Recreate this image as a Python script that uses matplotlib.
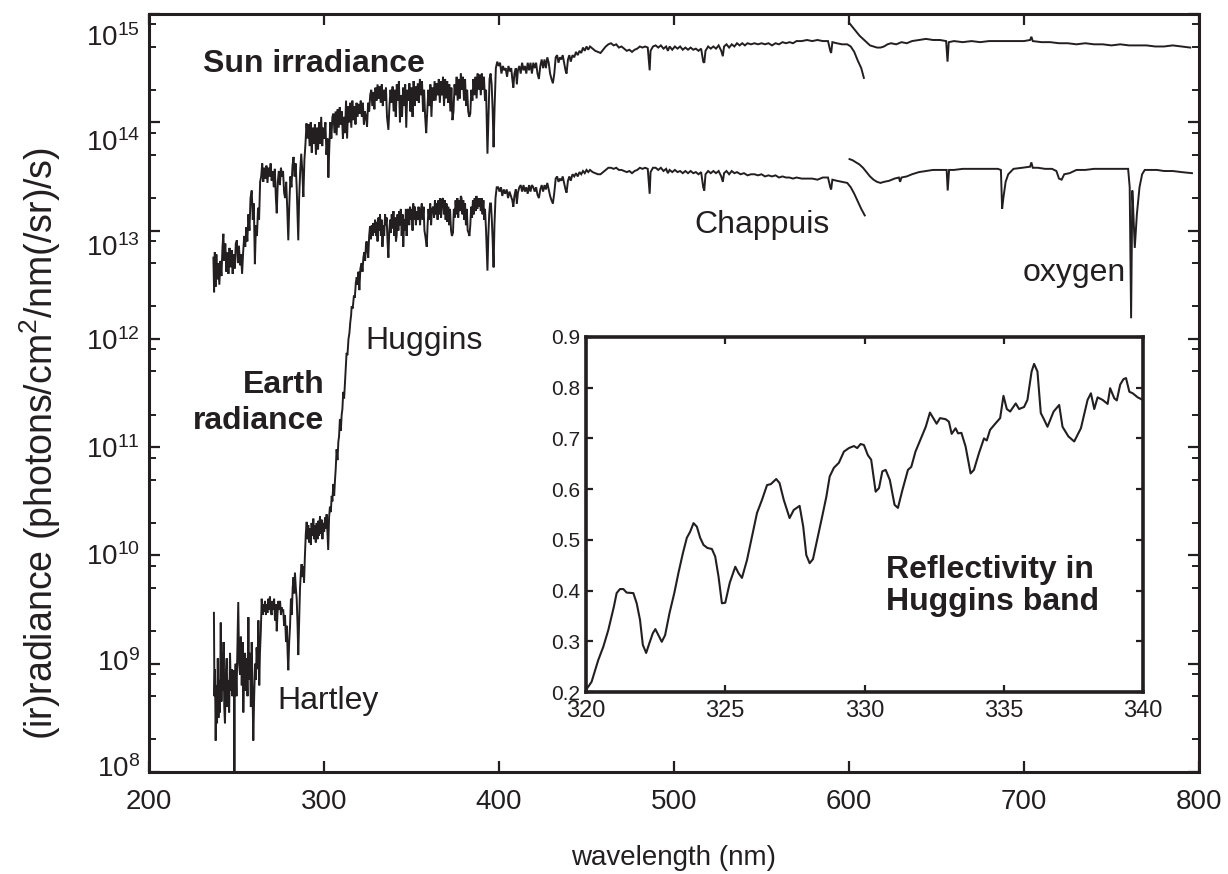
import numpy as np
import matplotlib
matplotlib.use("Agg")
import matplotlib.pyplot as plt
from matplotlib.ticker import LogLocator, NullFormatter, FixedLocator, NullLocator
from matplotlib.transforms import blended_transform_factory, ScaledTranslation

plt.rcParams['font.family'] = ['Liberation Sans', 'DejaVu Sans']
plt.rcParams['mathtext.fontset'] = 'custom'
plt.rcParams['mathtext.rm'] = 'Liberation Sans'
plt.rcParams['mathtext.it'] = 'Liberation Sans:italic'
plt.rcParams['mathtext.bf'] = 'Liberation Sans:bold'
plt.rcParams['mathtext.default'] = 'regular'

INK = '#231f20'

# ---------------- data: (wavelength nm, log10 of (ir)radiance) ----------------
sun_ch1 = [
(236.8,12.75),(237.2,12.43),(237.6,12.80),(238.0,12.48),(238.5,12.78),(239.0,12.55),(239.6,12.70),(240.2,12.50),
(240.8,12.72),(241.4,12.58),(242.0,12.85),(242.5,12.97),(243.0,12.72),(243.6,12.88),(244.2,12.62),(244.8,12.80),
(245.4,12.60),(246.0,12.84),(246.6,12.66),(247.2,12.82),(247.8,12.60),(248.4,12.78),(249.0,12.65),(249.6,12.88),
(250.2,12.91),(250.8,12.70),(251.4,12.86),(252.0,12.68),(252.6,12.78),(253.2,12.60),(253.8,12.80),(254.4,12.95),
(255.0,12.85),(255.6,13.03),(256.2,12.90),(256.8,13.15),(257.4,13.00),(258.0,13.30),(258.7,13.37),(259.3,13.10),
(259.9,13.25),(260.5,12.69),(261.1,13.05),(261.7,12.95),(262.3,13.21),(262.9,13.10),(263.5,13.45),(264.1,13.50),
(264.7,13.62),(265.3,13.45),(265.9,13.58),(266.5,13.48),(267.1,13.60),(267.7,13.44),(268.3,13.58),(268.9,13.50),
(269.5,13.62),(270.1,13.46),(270.7,13.55),(271.3,13.40),(271.9,13.57),(272.5,13.30),(273.0,13.16),(273.6,13.45),
(274.2,13.55),(274.8,13.42),(275.4,13.58),(276.0,13.50),(276.6,13.55),(277.2,13.35),(277.8,13.30),(278.4,13.45),
(279.0,13.20),(279.6,12.91),(280.2,13.25),(280.8,13.50),(281.4,13.40),(282.0,13.60),(282.6,13.68),(283.2,13.50),
(283.8,13.62),(284.4,13.40),(285.0,13.05),(285.3,12.91),(285.8,13.30),(286.4,13.55),(287.0,13.71),(287.6,13.55),
(288.2,13.31),(288.8,13.65),(289.4,13.80),(290.0,13.99),(290.6,13.85),(291.2,13.98),(291.8,13.78),(292.4,14.00),
(293.0,13.72),(293.6,13.95),(294.2,13.80),(294.8,13.98),(295.4,13.70),(296.0,13.95),(296.6,13.75),(297.2,14.00),
(297.8,13.80),(298.4,14.05),(299.0,13.78),(299.6,13.95),(300.2,13.85),(300.8,14.00),(301.4,13.70),(302.0,13.85),
(302.5,13.49),(303.0,13.75),(303.6,14.00),(304.2,13.85),(304.8,14.05),(305.4,14.08),(306.0,13.90),(306.6,14.10),
(307.2,13.88),(307.8,14.12),(308.4,13.95),(309.0,14.14),(309.6,13.98),(310.2,14.10),(310.8,13.85),(311.4,14.05),
(312.0,13.90),(312.6,14.20),(313.2,13.85),(313.8,14.15),(314.4,14.00),(315.0,14.18),(315.6,13.95),(316.2,14.20),
(316.8,14.02),(317.4,14.15),(318.0,13.98),(318.6,14.18),(319.2,14.05),(319.8,14.17),(320.4,14.08),(321.0,14.20),
(321.6,14.05),(322.2,14.18),(322.8,13.98),(323.4,14.10),(324.0,14.05),(324.6,13.96),(325.2,14.18),(325.8,14.10),
(326.4,14.25),(327.0,14.30),(327.6,14.15),(328.2,14.28),(328.8,14.12),(329.4,14.32),(330.0,14.20),(330.6,14.35),
(331.2,14.22),(331.8,14.33),(332.4,14.18),(333.0,14.35),(333.6,14.15),(334.2,14.30),(334.8,14.20),(335.4,14.32),
(336.0,14.05),(336.8,13.93),(337.4,14.15),(338.0,14.30),(338.6,14.18),(339.2,14.33),(339.8,14.10),(340.4,14.30),
(341.0,14.05),(341.6,14.35),(342.2,14.20),(342.8,14.38),(343.4,14.00),(344.0,14.25),(344.6,14.05),(345.2,14.32),
(345.8,14.15),(346.4,14.35),(347.0,13.95),(347.6,14.30),(348.2,14.20),(348.8,14.36),(349.4,14.10),(350.0,14.32),
(350.6,14.05),(351.2,14.38),(351.8,14.15),(352.4,14.33),(353.0,14.20),(353.6,14.36),(354.2,14.18),(354.8,14.40),
(355.4,14.25),(356.0,14.38),(356.6,14.10),(357.2,14.30),(357.8,14.05),(358.4,13.90),(359.0,14.10),(359.6,14.30),
(360.2,14.15),(360.8,14.35),(361.4,14.05),(362.0,14.32),(362.6,14.20),(363.2,14.38),(363.8,14.20),(364.4,14.36),
(365.0,14.25),(365.6,14.40),(366.2,14.18),(366.8,14.38),(367.4,14.25),(368.0,14.42),(368.6,14.15),(369.2,14.40),
(369.8,14.22),(370.4,14.38),(371.0,14.18),(371.6,14.35),(372.2,14.10),(372.8,14.32),(373.4,14.02),(374.0,14.10),
(374.6,14.35),(375.2,14.25),(375.8,14.42),(376.4,14.20),(377.0,14.40),(377.6,14.22),(378.2,14.45),(378.8,14.30),
(379.4,14.42),(380.0,14.20),(380.6,14.40),(381.2,14.15),(381.8,14.30),(382.4,14.10),(383.0,14.05),(383.6,14.08),
(384.2,14.30),(384.8,14.20),(385.4,14.40),(386.0,14.25),(386.6,14.42),(387.2,14.22),(387.8,14.45),(388.4,14.30),
(389.0,14.44),(389.6,14.25),(390.2,14.45),(390.8,14.30),(391.4,14.42),(392.0,14.20),(392.6,14.30),(393.4,13.71),
(394.0,14.05),(394.6,14.40),(395.2,14.45),(395.8,14.35),(396.4,14.10),(396.9,13.77),(397.5,14.15),(398.2,14.50),
(399.0,14.56),(399.8,14.52),(400.6,14.55),(401.4,14.45),(402.2,14.52),(403.0,14.48),(403.8,14.50),(404.6,14.42),
(405.4,14.52),(406.2,14.47),(407.0,14.50),(407.6,14.40),(408.2,14.32),(408.8,14.45),(409.6,14.50),(410.2,14.35),
(410.8,14.48),(411.6,14.52),(412.4,14.45),(413.2,14.55),(414.0,14.48),(414.8,14.52),(415.6,14.45),(416.4,14.55),
(417.2,14.48),(418.0,14.55),(418.8,14.45),(419.6,14.55),(420.4,14.50),(421.2,14.55),(422.0,14.45),(422.8,14.40),
(423.6,14.52),(424.4,14.58),(425.2,14.50),(426.0,14.58),(426.8,14.50),(427.6,14.60),(428.4,14.55),(429.2,14.45),
(430.0,14.40),(430.8,14.36),(431.6,14.45),(432.4,14.60),(433.2,14.62),(434.0,14.55),(434.8,14.60),(435.6,14.58),
(436.4,14.62),(437.2,14.55),(438.0,14.48),(438.6,14.45),(439.4,14.58),(440.2,14.62),(441.0,14.56),(442.0,14.62),
(443.0,14.60),(444.0,14.65),(445.0,14.62),(446.0,14.66),(447.0,14.64),(448.0,14.69),(449.0,14.66),(450.0,14.70),
(451.0,14.67),(452.0,14.70),(453.5,14.68),(455.0,14.66),(456.5,14.65),(458.0,14.64),(459.5,14.67),(461.0,14.70),
(462.5,14.72),(464.0,14.73),(465.5,14.71),(467.0,14.72),(468.5,14.69),(470.0,14.70),(471.5,14.68),(473.0,14.66),
(474.5,14.67),(476.0,14.65),(477.5,14.67),(479.0,14.68),(480.5,14.70),(482.0,14.69),(483.5,14.70),(485.0,14.69),
(486.1,14.48),(486.6,14.66),(488.0,14.70),(489.5,14.71),(491.0,14.69),(492.5,14.71),(494.0,14.68),(495.5,14.70),
(496.5,14.66),(497.5,14.70),(499.0,14.67),(500.5,14.70),(502.0,14.68),(503.5,14.70),(505.0,14.67),(506.5,14.69),
(508.0,14.67),(509.5,14.69),(511.0,14.67),(512.5,14.68),(514.0,14.66),(515.5,14.68),(516.7,14.56),(517.3,14.55),
(518.0,14.66),(519.5,14.70),(521.0,14.68),(522.5,14.70),(524.0,14.68),(525.5,14.71),(527.0,14.66),(527.9,14.61),
(528.6,14.70),(530.0,14.72),(531.5,14.69),(533.0,14.72),(534.5,14.70),(536.0,14.73),(537.5,14.71),(539.0,14.73),
(540.5,14.71),(542.0,14.73),(544.0,14.72),(546.0,14.73),(548.0,14.72),(550.0,14.73),(552.0,14.72),(554.0,14.73),
(556.0,14.71),(558.0,14.73),(560.0,14.72),(562.0,14.74),(564.0,14.73),(566.0,14.74),(568.0,14.73),(570.0,14.75),
(573.0,14.75),(576.0,14.76),(579.0,14.75),(582.0,14.76),(585.0,14.75),(588.0,14.75),(589.3,14.66),(589.8,14.64),
(590.5,14.74),(593.0,14.73),(596.0,14.72),(599.0,14.72),(601.0,14.70),(603.0,14.65),(605.0,14.57),(607.0,14.50),
(608.5,14.41),
]

sun_ch2 = [
(600.0,14.92),(602.0,14.88),(604.0,14.84),(606.0,14.80),(608.0,14.77),(610.0,14.74),(612.0,14.71),(614.0,14.70),
(616.0,14.69),(618.0,14.69),(620.0,14.70),(622.0,14.72),(624.0,14.73),(627.0,14.72),(630.0,14.74),(633.0,14.73),
(636.0,14.75),(640.0,14.76),(644.0,14.77),(648.0,14.76),(652.0,14.76),(655.5,14.75),(656.3,14.56),(657.0,14.74),
(660.0,14.75),(665.0,14.74),(670.0,14.75),(675.0,14.74),(680.0,14.75),(685.0,14.75),(690.0,14.75),(695.0,14.75),
(700.0,14.75),(703.5,14.76),(704.2,14.79),(705.0,14.75),(710.0,14.74),(715.0,14.74),(720.0,14.73),(725.0,14.73),
(730.0,14.72),(735.0,14.73),(740.0,14.72),(745.0,14.72),(750.0,14.71),(755.0,14.72),(760.0,14.71),(765.0,14.71),
(770.0,14.71),(775.0,14.70),(780.0,14.70),(785.0,14.71),(790.0,14.70),(795.0,14.69),
]

earth_ch1 = [
(237.1,9.47),(237.4,8.70),(237.7,8.95),(238.1,8.29),(238.5,8.80),(238.9,8.45),(239.3,9.05),(239.7,8.50),
(240.1,8.85),(240.5,8.55),(241.0,9.38),(241.4,8.65),(241.8,9.10),(242.2,8.75),(242.6,9.20),(243.0,8.60),
(243.4,8.45),(243.9,8.90),(244.4,9.05),(244.9,8.60),(245.3,8.85),(245.8,8.55),(246.3,9.10),(246.8,8.75),
(247.2,8.95),(247.7,8.70),(248.2,8.94),(248.6,8.75),(248.8,7.90),(249.0,8.80),(249.5,9.00),(250.0,8.70),
(250.5,9.15),(251.0,9.57),(251.5,9.00),(252.0,8.90),(252.5,9.25),(253.0,8.80),(253.5,9.20),(253.9,8.55),
(254.4,9.00),(254.9,9.10),(255.3,8.75),(255.8,9.05),(256.3,8.70),(256.8,9.43),(257.2,8.85),(257.7,9.10),
(258.2,8.60),(258.7,9.20),(259.1,8.80),(259.6,8.29),(260.1,8.70),(260.6,9.00),(261.1,8.85),(261.5,9.15),
(262.0,8.95),(262.5,9.40),(263.0,8.80),(263.4,9.10),(263.9,9.30),(264.4,9.60),(264.9,9.45),(265.3,9.55),
(265.8,9.48),(266.3,9.58),(266.8,9.45),(267.2,9.55),(267.7,9.47),(268.2,9.60),(268.7,9.50),(269.1,9.62),
(269.6,9.48),(270.1,9.45),(270.6,9.58),(271.1,9.50),(271.5,9.60),(272.0,9.40),(272.5,9.55),(273.0,9.30),
(273.4,9.45),(273.9,9.58),(274.4,9.50),(274.9,9.58),(275.4,9.45),(275.8,9.52),(276.3,9.48),(276.7,9.50),
(277.2,9.35),(277.7,9.45),(278.3,9.20),(278.8,9.35),(279.2,9.10),(279.6,8.94),(280.1,9.20),(280.6,9.35),
(281.1,9.60),(281.6,9.45),(282.1,9.70),(282.6,9.80),(283.0,9.65),(283.4,9.84),(283.9,9.70),(284.4,9.60),
(284.9,9.35),(285.3,9.08),(285.8,9.40),(286.3,9.70),(286.8,9.85),(287.2,9.92),(287.7,9.80),(288.2,9.90),
(288.6,9.75),(289.1,10.00),(289.6,10.20),(290.1,10.31),(290.6,10.15),(291.0,10.28),(291.5,10.12),(292.0,10.25),
(292.5,10.10),(292.9,10.30),(293.4,10.18),(293.9,10.34),(294.4,10.15),(294.9,10.28),(295.3,10.12),(295.8,10.30),
(296.3,10.15),(296.8,10.32),(297.2,10.18),(297.7,10.36),(298.2,10.20),(298.7,10.33),(299.1,10.15),(299.6,10.30),
(300.1,10.22),(300.6,10.35),(301.0,10.25),(301.5,10.38),(302.0,10.20),(302.4,10.05),(302.9,10.35),(303.4,10.45),
(303.9,10.40),(304.4,10.55),(304.8,10.50),(305.3,10.66),(305.8,10.55),(306.3,10.70),(306.7,10.80),(307.2,10.98),
(307.7,10.88),(308.2,11.05),(308.6,11.10),(309.1,11.26),(309.6,11.15),(310.1,11.30),(310.5,11.35),(311.0,11.51),
(311.5,11.45),(312.0,11.60),(312.4,11.72),(312.9,11.87),(313.4,11.85),(314.0,12.00),(314.5,12.05),(315.0,12.15),
(315.5,12.22),(315.8,12.30),(316.4,12.28),(317.1,12.40),(317.6,12.38),(318.2,12.52),(318.7,12.57),(319.2,12.50),
(319.7,12.62),(320.2,12.45),(320.8,12.65),(321.5,12.70),(322.0,12.62),(322.5,12.75),(323.0,12.80),(323.5,12.72),
(324.0,12.88),(324.4,12.90),(324.9,12.80),(325.3,12.75),(325.8,12.95),(326.3,13.04),(326.8,12.92),(327.3,13.05),
(327.8,12.95),(328.2,13.07),(328.7,12.98),(329.2,13.10),(329.7,12.95),(330.1,13.08),(330.6,12.90),(331.1,13.12),
(331.6,13.00),(332.0,13.15),(332.5,12.95),(333.0,13.10),(333.4,12.85),(333.9,13.05),(334.4,12.95),(334.9,13.15),
(335.3,13.05),(335.8,13.12),(336.3,12.90),(336.8,12.75),(337.3,13.00),(337.8,13.10),(338.2,12.98),(338.7,13.15),
(339.2,13.02),(339.7,13.18),(340.2,12.95),(340.7,13.12),(341.1,12.90),(341.5,12.95),(342.0,13.15),(342.5,13.00),
(343.0,13.18),(343.4,13.05),(343.9,13.20),(344.4,12.95),(344.9,13.15),(345.3,12.85),(345.8,13.10),(346.3,13.00),
(346.8,13.20),(347.2,12.95),(347.7,13.18),(348.2,13.20),(348.7,13.05),(349.2,13.22),(349.6,13.10),(350.1,13.20),
(350.6,13.00),(351.0,13.25),(351.5,13.10),(352.0,13.22),(352.5,13.05),(353.0,13.18),(353.5,13.10),(354.0,13.22),
(354.5,13.15),(354.9,13.05),(355.4,13.20),(355.9,13.25),(356.4,13.10),(356.9,13.22),(357.4,13.00),(357.9,12.95),
(358.7,12.85),(359.2,13.05),(359.7,13.20),(360.2,13.10),(360.7,13.25),(361.2,13.05),(361.7,13.20),(362.4,13.22),
(362.9,13.12),(363.4,13.28),(363.9,13.15),(364.4,13.25),(364.9,13.10),(365.4,13.28),(365.9,13.15),(366.4,13.30),
(366.9,13.12),(367.4,13.28),(368.0,13.30),(368.5,13.15),(369.0,13.28),(369.5,13.10),(370.0,13.25),(370.5,13.08),
(371.0,13.22),(371.5,13.05),(372.0,13.20),(372.6,13.00),(373.1,12.95),(373.7,12.98),(374.2,13.20),(374.7,13.12),
(375.2,13.28),(375.7,13.15),(376.2,13.30),(376.7,13.12),(377.2,13.28),(377.7,13.18),(378.2,13.32),(378.6,13.30),
(379.1,13.15),(379.6,13.28),(380.1,13.10),(380.6,13.25),(381.1,13.05),(381.6,13.20),(382.1,13.00),(382.6,12.98),
(383.1,12.95),(383.6,13.05),(384.1,13.22),(384.6,13.12),(385.1,13.28),(385.6,13.15),(386.1,13.30),(386.6,13.18),
(387.1,13.32),(387.6,13.20),(388.1,13.30),(388.6,13.22),(389.0,13.30),(389.6,13.18),(390.1,13.30),(390.6,13.15),
(391.1,13.28),(391.6,13.10),(392.0,13.20),(392.6,13.00),(393.4,12.63),(393.9,12.95),(394.4,13.15),(394.9,13.25),
(395.4,13.25),(395.9,13.10),(396.4,12.90),(396.9,12.66),(397.4,13.05),(398.0,13.30),(398.7,13.40),(399.5,13.40),
(400.3,13.36),(401.1,13.40),(401.9,13.32),(402.7,13.38),(403.5,13.34),(404.4,13.38),(405.2,13.30),(406.0,13.36),
(406.8,13.32),(407.6,13.28),(408.2,13.22),(408.8,13.32),(409.6,13.38),(410.2,13.25),(410.8,13.35),(411.6,13.40),
(412.4,13.42),(413.2,13.36),(414.0,13.42),(414.8,13.36),(415.6,13.40),(416.4,13.34),(417.2,13.42),(418.0,13.36),
(418.8,13.42),(419.6,13.40),(420.4,13.36),(421.2,13.40),(422.0,13.33),(422.8,13.30),(423.6,13.38),(424.4,13.42),
(425.2,13.36),(426.0,13.42),(426.8,13.38),(427.6,13.44),(428.4,13.38),(429.2,13.32),(430.0,13.28),(430.8,13.25),
(431.6,13.35),(432.4,13.48),(433.2,13.50),(434.0,13.45),(434.8,13.48),(435.6,13.46),(436.4,13.50),(437.2,13.44),
(438.0,13.38),(438.6,13.35),(439.4,13.46),(440.2,13.50),(441.0,13.46),(442.0,13.52),(443.0,13.50),(444.0,13.53),
(445.0,13.50),(446.0,13.54),(447.0,13.52),(448.0,13.55),(449.0,13.53),(450.0,13.56),(451.0,13.54),(452.0,13.56),
(453.5,13.54),(455.0,13.53),(456.5,13.52),(458.0,13.52),(459.5,13.54),(461.0,13.56),(462.5,13.58),(464.0,13.58),
(465.5,13.57),(467.0,13.58),(468.5,13.56),(470.0,13.56),(471.5,13.55),(473.0,13.54),(474.5,13.55),(476.0,13.53),
(477.5,13.55),(479.0,13.56),(480.5,13.58),(482.0,13.57),(483.5,13.58),(485.0,13.57),(486.1,13.34),(486.6,13.54),
(488.0,13.58),(489.5,13.58),(491.0,13.56),(492.5,13.58),(494.0,13.55),(495.5,13.57),(496.5,13.53),(497.5,13.56),
(499.0,13.54),(500.5,13.56),(502.0,13.54),(503.5,13.55),(505.0,13.53),(506.5,13.55),(508.0,13.53),(509.5,13.55),
(511.0,13.53),(512.5,13.54),(514.0,13.52),(515.5,13.54),(516.7,13.40),(517.3,13.37),(518.0,13.52),(519.5,13.55),
(521.0,13.53),(522.5,13.55),(524.0,13.53),(525.5,13.55),(527.0,13.50),(527.9,13.45),(528.6,13.53),(530.0,13.55),
(531.5,13.52),(533.0,13.55),(534.5,13.53),(536.0,13.54),(538.0,13.52),(540.0,13.53),(542.0,13.51),(544.0,13.52),
(546.0,13.52),(548.0,13.51),(550.0,13.52),(552.0,13.50),(554.0,13.51),(556.0,13.50),(558.0,13.51),(560.0,13.49),
(562.0,13.50),(564.0,13.49),(566.0,13.49),(568.0,13.48),(570.0,13.49),(573.0,13.48),(576.0,13.48),(579.0,13.48),
(582.0,13.47),(585.0,13.49),(588.0,13.49),(589.3,13.40),(589.8,13.38),(590.5,13.47),(593.0,13.46),(596.0,13.45),
(599.0,13.44),(601.0,13.40),(603.0,13.34),(605.0,13.27),(607.0,13.20),(609.0,13.14),
]

earth_ch2 = [
(600.3,13.66),(602.0,13.65),(604.0,13.63),(606.0,13.61),(608.0,13.58),(610.0,13.54),(612.0,13.50),(614.0,13.47),
(616.0,13.45),(618.0,13.44),(620.0,13.45),(623.0,13.46),(626.0,13.48),(628.5,13.49),(629.2,13.45),(630.0,13.49),
(633.0,13.50),(636.0,13.52),(640.0,13.54),(644.0,13.55),(648.0,13.56),(652.0,13.56),(655.8,13.56),(656.4,13.37),
(657.2,13.56),(660.0,13.56),(665.0,13.57),(670.0,13.57),(675.0,13.57),(680.0,13.57),(685.0,13.57),(686.8,13.56),
(687.5,13.20),(688.2,13.30),(689.5,13.45),(691.0,13.52),(694.0,13.57),(699.0,13.58),(703.5,13.59),(704.2,13.63),
(705.0,13.58),(708.0,13.58),(712.0,13.57),(716.0,13.57),(718.5,13.55),(720.0,13.48),(721.5,13.47),(723.0,13.52),
(726.0,13.53),(730.0,13.56),(735.0,13.56),(740.0,13.57),(745.0,13.57),(750.0,13.57),(755.0,13.57),(759.5,13.57),
(760.4,13.40),(761.2,12.19),(761.9,13.37),(762.4,13.20),(763.3,12.84),(764.5,13.15),(766.0,13.40),(767.5,13.52),
(769.0,13.56),(772.0,13.56),(776.0,13.56),(780.0,13.55),(785.0,13.55),(790.0,13.54),(796.0,13.53),
]

# inset: reflectivity in the Huggins band (wavelength nm, reflectivity)
huggins_nm = [320.0,320.2,320.44,320.62,320.8,321.0,321.1,321.22,321.34,321.46,321.7,321.82,321.94,322.04,322.16,
    322.28,322.4,322.49,322.6,322.72,322.84,323.0,323.17,323.32,323.48,323.62,323.74,323.86,323.98,324.1,324.22,
    324.36,324.52,324.64,324.76,324.88,325.0,325.16,325.36,325.48,325.6,325.78,325.96,326.14,326.32,326.5,326.64,
    326.83,326.95,327.1,327.31,327.46,327.67,327.8,327.91,328.03,328.15,328.3,328.48,328.63,328.75,328.9,329.08,
    329.26,329.44,329.62,329.74,329.86,329.98,330.12,330.24,330.4,330.52,330.64,330.76,330.91,331.08,331.2,331.36,
    331.56,331.68,331.83,332.08,332.2,332.35,332.47,332.59,332.71,332.91,333.03,333.13,333.27,333.36,333.48,333.63,
    333.81,333.93,334.11,334.29,334.39,334.51,334.71,334.87,334.99,335.11,335.23,335.43,335.55,335.73,335.85,336.0,
    336.09,336.21,336.33,336.45,336.57,336.79,336.99,337.11,337.32,337.53,337.77,338.01,338.13,338.25,338.37,338.55,
    338.73,338.82,338.97,339.06,339.18,339.3,339.39,339.51,339.63,339.81,339.99]
huggins_refl = [0.204,0.22,0.263,0.289,0.322,0.368,0.395,0.403,0.403,0.396,0.395,0.375,0.342,0.293,0.277,
    0.297,0.316,0.324,0.312,0.299,0.312,0.356,0.395,0.435,0.474,0.504,0.516,0.533,0.526,0.504,0.49,
    0.484,0.482,0.467,0.427,0.375,0.376,0.415,0.447,0.434,0.425,0.46,0.506,0.553,0.579,0.608,0.61,
    0.62,0.612,0.579,0.543,0.559,0.567,0.526,0.47,0.454,0.462,0.5,0.546,0.585,0.625,0.642,0.652,
    0.674,0.681,0.685,0.681,0.689,0.687,0.667,0.658,0.595,0.602,0.635,0.638,0.618,0.569,0.563,0.598,
    0.638,0.644,0.674,0.707,0.723,0.751,0.74,0.729,0.74,0.738,0.733,0.709,0.72,0.71,0.711,0.684,
    0.631,0.638,0.671,0.7,0.696,0.717,0.73,0.74,0.784,0.758,0.753,0.769,0.758,0.762,0.776,0.832,
    0.847,0.832,0.75,0.737,0.723,0.753,0.766,0.723,0.704,0.694,0.72,0.776,0.789,0.758,0.781,0.776,
    0.768,0.799,0.779,0.775,0.806,0.817,0.819,0.792,0.789,0.781,0.776]

x_ticks = [200, 300, 400, 500, 600, 700, 800]
y_tick_exponents = [8, 9, 10, 11, 12, 13, 14, 15]
y_label_drop_px = [-6, -4, -1, 0, 0, 15, 18, 21]   # reference labels sit slightly below upper ticks
inset_x_ticks = [320, 325, 330, 335, 340]
inset_y_ticks = [0.2, 0.3, 0.4, 0.5, 0.6, 0.7, 0.8, 0.9]

# ---------------- figure ----------------
fig = plt.figure(figsize=(12.28, 8.74), dpi=100)
ax = fig.add_axes([149/1228, 1-772/874, (1199-149)/1228, (772-14)/874])

for seg in (sun_ch1, sun_ch2, earth_ch1, earth_ch2):
    arr = np.array(seg)
    ax.plot(arr[:, 0], 10.0 ** arr[:, 1], color=INK, lw=1.4, solid_joinstyle='miter')

ax.set_yscale('log')
ax.set_xlim(200, 800)
ax.set_ylim(1e8, 1e15)
ax.xaxis.set_major_locator(FixedLocator(x_ticks))
ax.xaxis.set_minor_locator(NullLocator())
ax.yaxis.set_major_locator(FixedLocator([10.0 ** e for e in y_tick_exponents]))
ax.yaxis.set_minor_locator(LogLocator(base=10, subs=(2.0, 5.0, 8.0), numticks=20))
ax.yaxis.set_minor_formatter(NullFormatter())
ax.yaxis.set_major_formatter(NullFormatter())
ax.tick_params(which='both', direction='in', top=True, right=True, color=INK, labelcolor=INK)
ax.tick_params(which='major', length=8, width=1.6, labelsize=20)
ax.tick_params(axis='x', which='major', pad=12)
ax.tick_params(which='minor', length=5, width=1.4)
for s in ax.spines.values():
    s.set_linewidth(2.2)
    s.set_color(INK)

# y tick labels (10^n) drawn as text next to the axis
ylab_base = blended_transform_factory(ax.transAxes, ax.transData)
for e, drop in zip(y_tick_exponents, y_label_drop_px):
    tr = ylab_base + ScaledTranslation(-9 / 100, -drop / 100, fig.dpi_scale_trans)
    ax.text(0, 10.0 ** e, r'$10^{%d}$' % e, transform=tr, fontsize=20, color=INK,
            ha='right', va='center_baseline')

ax.set_xlabel('wavelength (nm)', fontsize=20, color=INK, labelpad=22)
fig.text(40 / 1228, 1 - 444 / 874, '(ir)radiance (photons/cm$^2$/nm(/sr)/s)', fontsize=27,
         color=INK, rotation=90, ha='center', va='center')

ax.text(230.9, 10**14.463, 'Sun irradiance', fontsize=23, fontweight='bold', color=INK,
        ha='left', va='baseline')
ax.text(300.3, 10**11.50, 'Earth', fontsize=23, fontweight='bold', color=INK, ha='right', va='baseline')
ax.text(300.3, 10**11.167, 'radiance', fontsize=23, fontweight='bold', color=INK, ha='right', va='baseline')
ax.text(323.4, 10**11.907, 'Huggins', fontsize=23, color=INK, ha='left', va='baseline')
ax.text(273.1, 10**8.583, 'Hartley', fontsize=23, color=INK, ha='left', va='baseline')
ax.text(511.5, 10**12.981, 'Chappuis', fontsize=23, color=INK, ha='left', va='baseline')
ax.text(699.4, 10**12.537, 'oxygen', fontsize=23, color=INK, ha='left', va='baseline')

# ---------------- inset ----------------
axi = fig.add_axes([586/1228, 1-692/874, (1143-586)/1228, (692-337)/874])
axi.plot(huggins_nm, huggins_refl, color=INK, lw=1.5)
axi.set_xlim(320, 340)
axi.set_ylim(0.2, 0.9)
axi.xaxis.set_major_locator(FixedLocator(inset_x_ticks))
axi.yaxis.set_major_locator(FixedLocator(inset_y_ticks))
axi.set_yticklabels([f'{v:.1f}' for v in inset_y_ticks])
axi.tick_params(which='both', direction='in', top=True, right=True, color=INK, labelcolor=INK,
                length=5, width=1.6)
axi.tick_params(axis='x', labelsize=17, pad=6)
axi.tick_params(axis='y', labelsize=15, pad=4)
for s in axi.spines.values():
    s.set_linewidth(2.6)
    s.set_color(INK)

axi.text(330.76, 0.425, 'Reflectivity in', fontsize=23, fontweight='bold', color=INK,
         ha='left', va='baseline')
axi.text(330.76, 0.362, 'Huggins band', fontsize=23, fontweight='bold', color=INK,
         ha='left', va='baseline')

fig.savefig('out.png', dpi=100, facecolor='white')
